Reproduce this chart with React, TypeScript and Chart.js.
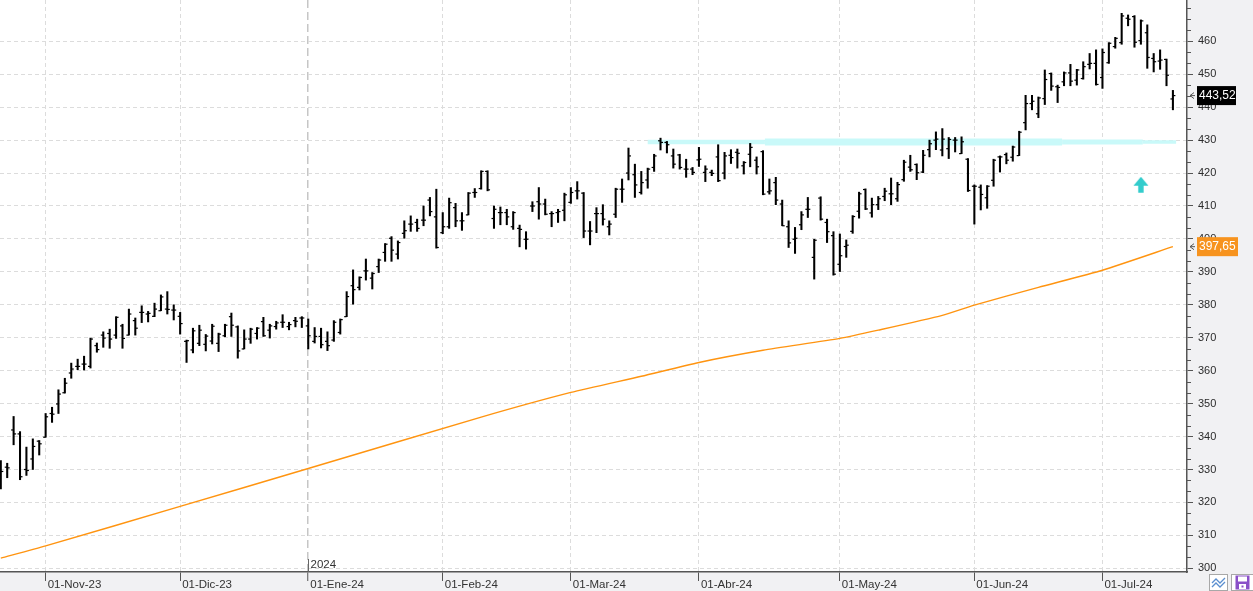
import React, { useEffect, useRef } from 'react';
import { Chart, registerables } from 'chart.js';

Chart.register(...registerables);

// ---- data (bar index = trading day) ----
const opens = [
  330, 330.7, 342, 340.8, 330, 333.2, 338.6, 339.8, 347, 349.9,
  353.3, 359.3, 361.3, 362, 361.3, 367.6, 370.8, 371.3, 370.8, 373.6,
  370.8, 375.2, 377.7, 377.2, 376.5, 378.2, 378.7, 378.4, 376.5, 368.9,
  366.3, 368.3, 368, 369, 368.3, 370.6, 376.4, 373.3, 366.6, 369.6,
  371.3, 374.9, 372.3, 373.4, 374.7, 373.4, 375.2, 376, 373.6, 368.9,
  370.4, 368.9, 369.3, 371.6, 376.4, 385.8, 385.3, 390.3, 388.1, 391.6,
  395.9, 400.2, 395.4, 401.7, 404.5, 405, 405.7, 411.8, 406.7, 401.9,
  403.7, 409.5, 405.5, 407.3, 414.1, 415.3, 420.5, 406.2, 408, 408,
  403.7, 403.2, 399.9, 410, 411.3, 410.6, 407.7, 408, 408.7, 411.1,
  414.6, 413.9, 402.4, 407.7, 407.7, 403.7, 407.5, 415.1, 420, 419.5,
  414.1, 417.9, 421.7, 429.8, 429.3, 425.2, 425.5, 421.2, 421.2, 424,
  420.2, 420.2, 424.9, 420, 425.4, 426.3, 422.2, 425.7, 423.9, 426.5,
  414.3, 417.1, 410.6, 403.7, 399.9, 404.3, 409, 394.4, 412.4, 405,
  401, 392.3, 397.7, 402.3, 408.4, 415, 407.9, 410.4, 412.9, 413.7,
  412.2, 418, 421.8, 422.6, 420.3, 427.1, 430, 427, 427.4, 430,
  425.9, 424.2, 416, 415.7, 412.5, 417.8, 424.9, 425.6, 424.8, 425.3,
  435.3, 441.1, 438, 442.6, 450.2, 446.2, 447.7, 450.4, 448.2, 448.7,
  453, 453.3, 449, 453.5, 458.4, 459.6, 467, 467.5, 460.2, 462.6,
  454.8, 454, 454.5, 442.5,
];
const highs = [
  332.7, 331.9, 346.1, 341.5, 336.8, 339.3, 338.8, 347, 348.9, 354.2,
  357.7, 362.3, 363.5, 364.4, 369.9, 368.4, 371.8, 372.6, 376.4, 374.1,
  378.7, 376, 379.7, 378, 380.5, 383, 384, 380, 377.7, 369.3,
  372.9, 373.8, 371, 374.1, 371.4, 374.1, 377.5, 373.6, 372.4, 372.9,
  373.1, 376.2, 374.1, 375, 377, 374.7, 376.2, 376.4, 375.7, 373.1,
  372.9, 371.8, 375.2, 375.7, 384, 390.6, 388.5, 393.9, 389.8, 393.9,
  398.6, 400.7, 399.4, 405.5, 407, 406, 410, 412.6, 415.1, 408,
  412.4, 410.8, 408, 414.1, 415.3, 420.7, 420.7, 410, 409.7, 409,
  408.3, 404.2, 402.2, 411.3, 415.6, 412.1, 408.3, 409, 413.9, 415.6,
  417.4, 414.1, 405.3, 409.5, 410.4, 405.5, 415.4, 418.2, 427.6, 422.7,
  420.5, 421.5, 425.7, 430.6, 429.6, 427.3, 425.7, 424.2, 421.7, 427.8,
  422.2, 420.9, 428.6, 426.3, 427.1, 427.3, 423.5, 429, 424.9, 426.8,
  418.2, 418.7, 411.8, 405.5, 403.5, 408.3, 412.6, 399.9, 412.8, 406,
  402.2, 401.5, 399.7, 407.1, 414.2, 415.2, 412.4, 412.9, 415.4, 418.5,
  417.2, 423.9, 425.4, 422.8, 426.9, 430, 432.5, 433.5, 430.8, 430.8,
  431, 424.4, 416.4, 416.4, 416.2, 424.2, 425.2, 426.1, 428.2, 432.7,
  443.6, 443.6, 443.1, 451.3, 450.4, 446.7, 450.7, 453, 451.5, 453.8,
  456.3, 457.4, 457.7, 459.6, 461.2, 468.5, 468, 467.8, 466.5, 465,
  456.3, 457.4, 454.6, 445.1,
];
const lows = [
  324.1, 327.5, 337.5, 326.9, 328.2, 330, 334.4, 339.8, 344.3, 347,
  353.2, 357.7, 360.3, 360.2, 360.8, 365.6, 367.1, 366.8, 369.8, 366.8,
  370.8, 370.8, 374.6, 374.8, 376.4, 378.2, 377.2, 375.4, 371.1, 362.5,
  365.4, 367.6, 366, 368.1, 365.8, 370.3, 370.4, 363.8, 366.6, 368.3,
  369.6, 370.4, 369.9, 372.6, 373.1, 372.4, 373.3, 373.1, 366.6, 368.4,
  366.9, 366.1, 368.9, 371.1, 376.4, 380.2, 384.5, 387.5, 384.8, 389.8,
  393.2, 393.2, 393.9, 400.2, 402.3, 402.3, 404, 407, 397.2, 401.6,
  403.2, 403.7, 402.6, 407.3, 412.6, 415.1, 414.6, 403.2, 404.3, 404.3,
  402.9, 397.6, 396.9, 408.3, 406, 407.3, 403.7, 405, 405.5, 410.8,
  412.1, 400.4, 398.2, 401.9, 404.2, 401.2, 406.5, 411.1, 417.9, 412.6,
  413.6, 415.4, 420.5, 427, 426.1, 421.5, 421.2, 418.7, 419.5, 422,
  417.4, 419.2, 417.4, 418.2, 422.9, 421.5, 419.7, 421.9, 419.7, 413.4,
  413.6, 410.4, 404, 397.4, 395.6, 402.8, 406.5, 387.8, 405.7, 398.9,
  389, 390.1, 394.4, 401.7, 406.3, 408.9, 406.6, 408.9, 411.6, 410.4,
  411.4, 417.5, 420.5, 418, 420.1, 424.9, 427.1, 425.2, 424.4, 426.4,
  425.9, 414.4, 404.5, 408.8, 409.3, 416, 420.3, 422.8, 423.6, 425.3,
  433.1, 439.2, 436.8, 440.8, 445.1, 441.4, 446.5, 446.5, 446.7, 448.5,
  451.6, 446.7, 445.7, 453.3, 457.9, 459.1, 464.7, 458.2, 459.1, 451.8,
  450.7, 451.5, 446.5, 439.2,
];
const closes = [
  329.4, 330.5, 340.8, 327.8, 329.7, 337, 337.8, 346, 346.8, 352.9,
  356.2, 360.5, 361.3, 362, 369.6, 366.4, 369.9, 369.6, 376.2, 369.8,
  377.2, 372.9, 377.7, 377.4, 378.7, 382.4, 378.6, 378.4, 374.3, 369.1,
  372.1, 372.3, 370.5, 373.5, 371.1, 373.8, 373.8, 366, 369.6, 372.6,
  372.9, 370.6, 373.6, 374.5, 374.7, 374, 375, 376, 370.6, 370.4,
  367.9, 367.6, 374.7, 375.5, 382.5, 384.6, 388.3, 390.3, 389.5, 393.6,
  398.4, 396.6, 398.9, 402.5, 404.5, 403.2, 405.7, 408.3, 397.4, 403.7,
  411, 405.5, 405.5, 413.9, 414.1, 420.5, 414.9, 409, 408, 406.7,
  408, 402.9, 399.9, 410, 410.6, 407.5, 407.7, 408.3, 413.4, 414.1,
  414.6, 402.4, 402.4, 407.7, 406, 404.5, 415.1, 415.1, 425.2, 416.4,
  417.1, 421.2, 425.2, 429.3, 428.6, 422.7, 421.7, 421.2, 420.2, 424.2,
  421.2, 419.9, 417.7, 425.2, 424.7, 426, 423.2, 427.8, 421.9, 413.6,
  414.6, 411.8, 404, 398.8, 400.2, 407.3, 409, 399.6, 406, 402.2,
  389.3, 394.9, 398.1, 406.8, 413.7, 409.1, 410.4, 412.2, 414.5, 413.7,
  416.5, 423.3, 421, 420.1, 425.4, 428.9, 430.3, 430.3, 430.2, 430,
  429.5, 414.7, 416, 413.5, 416, 423.9, 424.9, 423.9, 427.9, 432.4,
  441.1, 441.8, 442.8, 448.4, 446.4, 446, 450.4, 447.9, 451.3, 452.3,
  453.3, 446.9, 456.6, 459.4, 460.9, 467.7, 466.7, 459.7, 466.2, 455.1,
  453.8, 454.3, 449.7, 443.52,
];

// moving average read at selected bars
const maIndex = [0, 7, 28, 48, 75, 89, 100, 109, 119, 131, 137, 147, 152, 162, 172, 183];
const maValues = [303.1, 306.8, 318.8, 330.3, 345.9, 353.4, 358.3, 362.5, 366.2, 369.8, 372.3, 376.8, 379.9, 385.3, 390.5, 397.65];

// month ticks
const monthIndex = [7, 28, 48, 69, 89, 109, 131, 152, 172];
const monthLabels = ['01-Nov-23', '01-Dic-23', '01-Ene-24', '01-Feb-24', '01-Mar-24', '01-Abr-24', '01-May-24', '01-Jun-24', '01-Jul-24'];
const yearIndex = 48;
const yearLabel = '2024';

// y ticks
const yTickValues = [300, 310, 320, 330, 340, 350, 360, 370, 380, 390, 400, 410, 420, 430, 440, 450, 460];

// resistance band
const bandLevel = 429.45;
const bandStart = [101, 119.3, 165.7, 178.3];
const bandEnd = [119.3, 165.7, 178.3, 183.5];

// buy signal
const signalIndex = 178;
const signalValue = 416.3;

const lastClose = closes[closes.length - 1];
const lastMA = maValues[maValues.length - 1];

const fmt = (v: number) => v.toFixed(2).replace('.', ',');

function makeArrow(): HTMLCanvasElement {
  const c = document.createElement('canvas');
  c.width = 16;
  c.height = 17;
  const g = c.getContext('2d')!;
  g.fillStyle = '#33cccc';
  g.beginPath();
  g.moveTo(8, 0);
  g.lineTo(15.5, 9);
  g.lineTo(0.5, 9);
  g.closePath();
  g.fill();
  g.fillRect(5.3, 9, 5.4, 7);
  return c;
}

const decorPlugin = {
  id: 'decor',
  beforeDraw(chart: any) {
    const { ctx, chartArea } = chart;
    ctx.save();
    ctx.fillStyle = '#f1f1f3';
    ctx.fillRect(0, 0, chart.width, chart.height);
    ctx.fillStyle = '#ffffff';
    ctx.fillRect(chartArea.left, chartArea.top, chartArea.right - chartArea.left, chartArea.bottom - chartArea.top);
    ctx.restore();
  },
  afterDraw(chart: any) {
    const { ctx, chartArea } = chart;
    const xs = chart.scales.x;
    const ys = chart.scales.y;
    ctx.save();
    // minor ticks on the value axis
    ctx.strokeStyle = '#555';
    ctx.lineWidth = 1;
    for (let k = 0; k < yTickValues.length - 1; k++) {
      for (let m = 1; m <= 2; m++) {
        const v = yTickValues[k] + (m * (yTickValues[k + 1] - yTickValues[k])) / 3;
        const py = Math.round(ys.getPixelForValue(v)) + 0.5;
        ctx.beginPath();
        ctx.moveTo(chartArea.right, py);
        ctx.lineTo(chartArea.right + 4, py);
        ctx.stroke();
      }
    }
    for (const v of [463.33, 466.67, 470]) {
      const py = Math.round(ys.getPixelForValue(v)) + 0.5;
      ctx.beginPath();
      ctx.moveTo(chartArea.right, py);
      ctx.lineTo(chartArea.right + 4, py);
      ctx.stroke();
    }
    // year marker
    const yx = Math.round(xs.getPixelForValue(yearIndex)) + 0.5;
    ctx.strokeStyle = '#666';
    ctx.lineWidth = 1;
    ctx.beginPath();
    ctx.moveTo(yx, chartArea.bottom - 13);
    ctx.lineTo(yx, chartArea.bottom);
    ctx.stroke();
    ctx.fillStyle = '#333';
    ctx.font = '11.5px "Liberation Sans", Arial, sans-serif';
    ctx.textAlign = 'left';
    ctx.textBaseline = 'alphabetic';
    ctx.fillText(yearLabel, yx + 2, chartArea.bottom - 4);

    // last value labels
    const tags = [
      { v: lastClose, bg: '#000000', w: 39 },
      { v: lastMA, bg: '#f7931e', w: 41 },
    ];
    for (const t of tags) {
      const py = ys.getPixelForValue(t.v);
      const bx = chartArea.right + 10;
      ctx.fillStyle = t.bg;
      ctx.fillRect(bx, py - 9.5, t.w, 19);
      ctx.fillStyle = '#ffffff';
      ctx.font = '12px "Liberation Sans", Arial, sans-serif';
      ctx.textBaseline = 'middle';
      ctx.fillText(fmt(t.v), bx + 2, py + 0.5);
      ctx.strokeStyle = '#555';
      ctx.lineWidth = 1;
      ctx.beginPath();
      ctx.moveTo(chartArea.right + 7, py - 3);
      ctx.lineTo(chartArea.right + 3, py);
      ctx.lineTo(chartArea.right + 7, py + 3);
      ctx.moveTo(chartArea.right + 3, py);
      ctx.lineTo(chartArea.right + 8, py);
      ctx.stroke();
    }
    ctx.restore();
  },
};

export default function App() {
  const ref = useRef<HTMLCanvasElement>(null);

  useEffect(() => {
    if (!ref.current) return;
    const arrow = makeArrow();
    const n = closes.length;
    const idx = Array.from({ length: n }, (_, i) => i);
    const bandColor = '#c9f9f9';
    const bandWidths = [4.5, 7, 5, 3.5];

    const datasets: any[] = [
      {
        type: 'bar',
        label: 'range',
        data: idx.map((i) => ({ x: i, y: [lows[i], highs[i]] })),
        backgroundColor: '#000000',
        barThickness: 1.4,
        order: 0,
      },
      {
        type: 'scatter',
        label: 'open',
        data: idx.map((i) => ({ x: i - 0.2, y: opens[i] })),
        pointStyle: 'line',
        pointRadius: 1.2,
        pointBorderWidth: 1.2,
        borderColor: '#000000',
        backgroundColor: '#000000',
        showLine: false,
        order: 0,
      },
      {
        type: 'scatter',
        label: 'close',
        data: idx.map((i) => ({ x: i + 0.2, y: closes[i] })),
        pointStyle: 'line',
        pointRadius: 1.2,
        pointBorderWidth: 1.2,
        borderColor: '#000000',
        backgroundColor: '#000000',
        showLine: false,
        order: 0,
      },
      {
        type: 'line',
        label: 'ma',
        data: maIndex.map((x, k) => ({ x, y: maValues[k] })),
        borderColor: '#ff9410',
        borderWidth: 1.4,
        pointRadius: 0,
        tension: 0.2,
        order: 1,
      },
      {
        type: 'scatter',
        label: 'signal',
        data: [{ x: signalIndex, y: signalValue }],
        pointStyle: arrow,
        pointRadius: 8,
        order: 1,
      },
    ];
    bandStart.forEach((s, k) => {
      datasets.push({
        type: 'line',
        label: 'band' + k,
        data: [
          { x: s, y: bandLevel },
          { x: bandEnd[k], y: bandLevel },
        ],
        borderColor: bandColor,
        borderWidth: bandWidths[k],
        borderCapStyle: 'butt',
        pointRadius: 0,
        order: 2,
      });
    });

    const chart = new Chart(ref.current, {
      type: 'scatter',
      data: { datasets },
      plugins: [decorPlugin],
      options: {
        animation: false,
        responsive: false,
        devicePixelRatio: 1,
        events: [],
        layout: { padding: 0, autoPadding: false },
        plugins: { legend: { display: false }, tooltip: { enabled: false } },
        scales: {
          x: {
            type: 'linear',
            position: 'bottom',
            min: -0.125,
            max: 185.2,
            offset: false,
            afterBuildTicks: (s: any) => {
              s.ticks = monthIndex.map((v) => ({ value: v }));
            },
            afterFit: (s: any) => {
              s.height = 19;
              s.paddingLeft = 0;
              s.paddingRight = 0;
            },
            grid: {
              offset: false,
              color: (c: any) => (c.tick && c.tick.value === yearIndex ? '#c6c6c6' : '#dcdcdc'),
              lineWidth: (c: any) => (c.tick && c.tick.value === yearIndex ? 1.5 : 1),
              tickLength: 9,
              tickColor: '#555',
              tickWidth: 1,
            },
            border: {
              color: '#555',
              width: 1.5,
              dash: (c: any) => (c.tick && c.tick.value === yearIndex ? [8, 4] : [4, 3]),
            },
            ticks: {
              autoSkip: false,
              maxRotation: 0,
              align: 'start',
              labelOffset: 2,
              padding: -3,
              color: '#333',
              font: { family: '"Liberation Sans", Arial, sans-serif', size: 11.5 },
              callback: (v: any) => {
                const k = monthIndex.indexOf(Number(v));
                return k >= 0 ? monthLabels[k] : '';
              },
            },
          },
          y: {
            type: 'linear',
            position: 'right',
            min: 298.88,
            max: 472.54,
            afterBuildTicks: (s: any) => {
              s.ticks = yTickValues.map((v) => ({ value: v }));
            },
            afterFit: (s: any) => {
              s.width = 66;
              s.paddingTop = 0;
              s.paddingBottom = 0;
            },
            grid: {
              color: '#dcdcdc',
              lineWidth: 1,
              tickLength: 6,
              tickColor: '#555',
              tickWidth: 1,
            },
            border: { color: '#555', width: 1.5, dash: [4, 3] },
            ticks: {
              padding: 5,
              color: '#2b2b2b',
              font: { family: '"Liberation Sans", Arial, sans-serif', size: 11 },
              callback: (v: any) => String(v),
            },
          },
        },
      } as any,
    });
    return () => chart.destroy();
  }, []);

  const box: React.CSSProperties = {
    position: 'absolute',
    top: 574,
    height: 15,
    border: '1px solid #a8a8a8',
    background: '#ffffff',
    boxSizing: 'content-box',
  };

  return (
    <div style={{ position: 'fixed', left: 0, top: 0, width: 1253, height: 591, overflow: 'hidden', background: '#f1f1f3' }}>
      <canvas ref={ref} width={1253} height={591} style={{ display: 'block', width: 1253, height: 591 }} />
      <div style={{ ...box, left: 1209, width: 17 }}>
        <svg width="17" height="15" viewBox="0 0 17 15">
          <polyline points="2,8 6,4 10,8 15,3" fill="none" stroke="#5b8fd0" strokeWidth="1.3" />
          <polyline points="2,12 6,8 10,12 15,7" fill="none" stroke="#5b8fd0" strokeWidth="1.3" />
        </svg>
      </div>
      <div style={{ ...box, left: 1231, width: 21 }}>
        <svg width="21" height="15" viewBox="0 0 21 15">
          <rect x="3.5" y="0.5" width="14" height="14" fill="#8a50c8" />
          <rect x="6" y="1.5" width="9" height="5" fill="#ffffff" />
          <rect x="7" y="9" width="7" height="5" fill="#ffffff" />
          <rect x="9.5" y="10.5" width="2" height="2" fill="#8a50c8" />
        </svg>
      </div>
    </div>
  );
}
